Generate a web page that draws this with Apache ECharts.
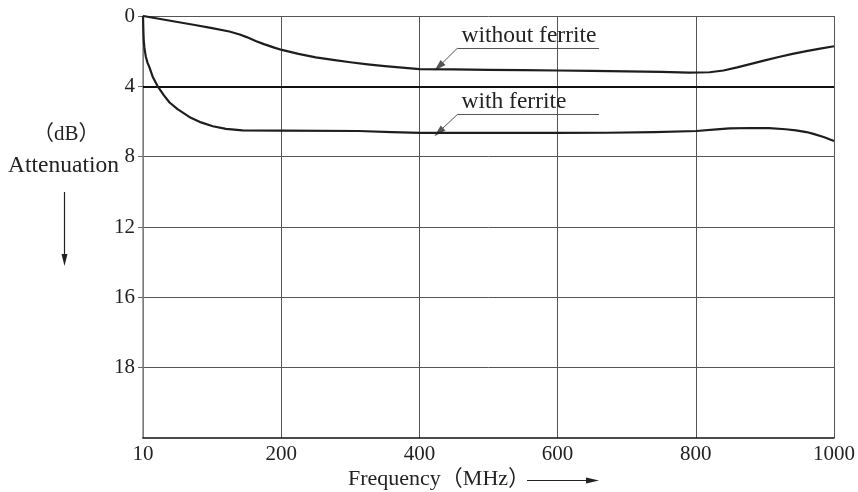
<!DOCTYPE html>
<html>
<head>
<meta charset="utf-8">
<script src="https://cdn.jsdelivr.net/npm/echarts@6/dist/echarts.min.js"></script>
<style>
html,body{margin:0;padding:0;background:#fff;}
#chart{width:858px;height:492px;}
</style>
</head>
<body>
<div id="chart"></div>
<script>
// x positions are in axis units: 0 is the left edge (labelled "10"), 1000 the right edge
const xTickLabels = ['10', '200', '400', '600', '800', '1000'];
const yTickLabels = ['0', '4', '8', '12', '16', '18', ''];
const yTickValues = [0, 4, 8, 12, 16, 20];

const withoutFerriteX = [0, 25, 50, 75, 100, 125, 140, 150, 163, 175, 190, 201, 225, 250, 275, 300, 325, 350, 375, 400, 450, 500, 550, 600, 650, 700, 750, 790, 820, 840, 860, 880, 900, 920, 940, 960, 980, 1000];
const withoutFerriteY = [0, 0.17, 0.34, 0.51, 0.69, 0.88, 1.05, 1.2, 1.42, 1.6, 1.8, 1.93, 2.15, 2.35, 2.5, 2.63, 2.75, 2.85, 2.94, 3.02, 3.04, 3.06, 3.08, 3.1, 3.12, 3.15, 3.18, 3.22, 3.2, 3.1, 2.92, 2.72, 2.52, 2.33, 2.15, 2.0, 1.86, 1.72];

const withFerriteX = [0, 0.5, 1, 2, 4, 6.5, 9.6, 14, 21.6, 30, 38.4, 50, 67, 84, 101, 120, 144, 200, 312, 360, 401, 500, 600, 672, 740, 801, 830, 849, 880, 906, 930, 945, 960, 969, 985, 1000];
const withFerriteY = [0, 0.8, 1.35, 1.8, 2.3, 2.65, 2.95, 3.45, 4.02, 4.5, 4.92, 5.3, 5.74, 6.05, 6.27, 6.42, 6.5, 6.52, 6.54, 6.6, 6.65, 6.65, 6.65, 6.64, 6.6, 6.54, 6.45, 6.39, 6.37, 6.38, 6.44, 6.5, 6.6, 6.69, 6.88, 7.11];

const labelWithout = 'without ferrite';
const labelWith = 'with ferrite';
// annotation geometry in axis units
const annWithout = { lineStart: [455, 1.83], lineEnd: [660, 1.83], tip: [428, 2.88] };
const annWith = { lineStart: [455, 5.60], lineEnd: [660, 5.60], tip: [428, 6.60] };

const FONT = "'Liberation Serif', 'Noto Sans CJK JP', serif";
const INK = '#1e1e1e';

function zip(xs, ys) { return xs.map((x, i) => [x, ys[i]]); }

function annotationData(ann, text) {
  return [
    [
      { coord: ann.lineStart, symbol: 'none',
        label: { show: true, position: 'insideStartTop', formatter: text, distance: [4, 1],
                 fontFamily: FONT, fontSize: 23.5, color: '#222' } },
      { coord: ann.lineEnd, symbol: 'none' }
    ],
    [
      { coord: ann.lineStart, symbol: 'none', label: { show: false } },
      { coord: ann.tip, symbol: 'triangle', symbolSize: [7, 12] }
    ]
  ];
}

const chart = echarts.init(document.getElementById('chart'), null, { renderer: 'canvas' });
chart.setOption({
  animation: false,
  backgroundColor: '#fff',
  grid: { left: 143, right: 20, top: 16, bottom: 54, containLabel: false },
  xAxis: {
    type: 'value', min: 0, max: 1000, interval: 200, position: 'bottom',
    axisLine: { show: true, onZero: false, lineStyle: { color: '#111', width: 1.5 } },
    axisTick: { show: false },
    axisLabel: {
      margin: 6, fontFamily: FONT, fontSize: 21, color: '#222',
      formatter: v => xTickLabels[Math.round(v / 200)]
    },
    splitLine: { show: true, lineStyle: { color: '#555', width: 1 } }
  },
  yAxis: {
    type: 'value', inverse: true, min: 0, max: 24, interval: 4,
    axisLine: { show: true, lineStyle: { color: '#8a8a8a', width: 1.5 } },
    axisTick: { show: true, length: 5, customValues: yTickValues, lineStyle: { color: '#666' } },
    axisLabel: {
      margin: 8, fontFamily: FONT, fontSize: 21, color: '#222',
      formatter: v => yTickLabels[Math.round(v / 4)]
    },
    splitLine: { show: true, lineStyle: { color: '#555', width: 1 } }
  },
  series: [
    {
      name: labelWithout, type: 'line', data: zip(withoutFerriteX, withoutFerriteY),
      showSymbol: false, smooth: false,
      lineStyle: { color: INK, width: 2.2, join: 'round' },
      markLine: {
        silent: true, symbol: ['none', 'none'], animation: false,
        lineStyle: { color: '#555', width: 1, type: 'solid' },
        data: annotationData(annWithout, labelWithout)
      },
      z: 5
    },
    {
      name: labelWith, type: 'line', data: zip(withFerriteX, withFerriteY),
      showSymbol: false, smooth: false,
      lineStyle: { color: INK, width: 2.2, join: 'round' },
      markLine: {
        silent: true, symbol: ['none', 'none'], animation: false,
        lineStyle: { color: '#555', width: 1, type: 'solid' },
        data: [
          [
            { coord: [0, 4], symbol: 'none', lineStyle: { color: '#111', width: 2.2, type: 'solid' }, label: { show: false } },
            { coord: [1000, 4], symbol: 'none' }
          ]
        ].concat(annotationData(annWith, labelWith))
      },
      z: 5
    }
  ],
  graphic: [
    { type: 'text', left: 33, top: 124, style: { text: '（dB）', font: "21px " + FONT, fill: '#222' } },
    { type: 'text', left: 8, top: 154, style: { text: 'Attenuation', font: "23.5px " + FONT, fill: '#222' } },
    { type: 'line', shape: { x1: 64.5, y1: 192, x2: 64.5, y2: 258 }, style: { stroke: '#222', lineWidth: 1.2 } },
    { type: 'polygon', shape: { points: [[61.5, 254], [67.5, 254], [64.5, 266]] }, style: { fill: '#222' } },
    { type: 'text', left: 348, top: 468, style: { text: 'Frequency（MHz）', font: "22px " + FONT, fill: '#222' } },
    { type: 'line', shape: { x1: 527, y1: 480.5, x2: 590, y2: 480.5 }, style: { stroke: '#222', lineWidth: 1.2 } },
    { type: 'polygon', shape: { points: [[586, 477.5], [586, 483.5], [599, 480.5]] }, style: { fill: '#222' } }
  ]
});
</script>
</body>
</html>
